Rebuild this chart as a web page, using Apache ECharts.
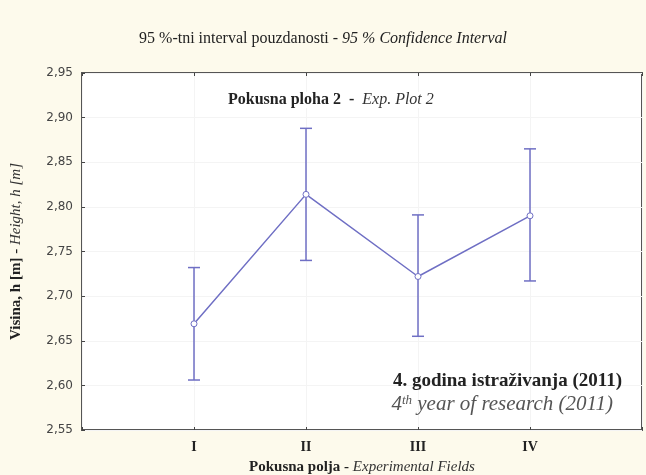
<!DOCTYPE html>
<html>
<head>
<meta charset="utf-8">
<script src="https://cdn.jsdelivr.net/npm/echarts@6/dist/echarts.min.js"></script>
<style>
  html, body { margin: 0; padding: 0; background: #fdfaec; }
  #chart { width: 646px; height: 475px; }
</style>
</head>
<body>
<div id="chart"></div>
<script>
// field labels and positions on the x scale
const fields = ['I', 'II', 'III', 'IV'];
const fieldPos = [1, 2, 3, 4];
// mean height and 95 % confidence limits (m)
const means = [2.669, 2.814, 2.722, 2.790];
const upper = [2.732, 2.888, 2.791, 2.865];
const lower = [2.606, 2.740, 2.655, 2.717];

const lineColor = '#6f6fc4';
const serif = 'Liberation Serif';

const chart = echarts.init(document.getElementById('chart'));

const option = {
  backgroundColor: '#fdfaec',
  animation: false,
  title: {
    left: 'center',
    top: 26,
    text: '{a|95 %-tni interval pouzdanosti - }{b|95 % Confidence Interval}',
    textStyle: {
      fontWeight: 'normal',
      rich: {
        a: { fontFamily: serif, fontSize: 16, fontWeight: 'normal', color: '#222' },
        b: { fontFamily: serif, fontSize: 16, fontWeight: 'normal', color: '#222', fontStyle: 'italic' }
      }
    }
  },
  grid: {
    left: 82, right: 4, top: 73, bottom: 45,
    outerBoundsMode: 'none',
    show: true,
    backgroundColor: '#fff',
    borderColor: '#555',
    borderWidth: 2
  },
  xAxis: [
    {
      type: 'value',
      min: 0, max: 5, interval: 1,
      axisLine: { show: false },
      axisTick: { show: true, inside: true, length: 3, lineStyle: { color: '#444' } },
      splitLine: { show: true, lineStyle: { color: '#f4f4f4' } },
      axisLabel: {
        margin: 10,
        fontFamily: serif, fontSize: 14, fontWeight: 'bold', color: '#222',
        formatter: v => {
          const i = fieldPos.indexOf(v);
          return i >= 0 ? fields[i] : '';
        }
      },
      name: '{a|Pokusna polja - }{b|Experimental Fields}',
      nameLocation: 'middle',
      nameGap: 30,
      nameTextStyle: {
        rich: {
          a: { fontFamily: serif, fontSize: 15, fontWeight: 'bold', color: '#222' },
          b: { fontFamily: serif, fontSize: 15, fontStyle: 'italic', color: '#333' }
        }
      }
    },
    {
      type: 'value',
      position: 'top',
      min: 0, max: 5, interval: 1,
      axisLine: { show: false },
      axisTick: { show: true, inside: true, length: 3, lineStyle: { color: '#444' } },
      axisLabel: { show: false },
      splitLine: { show: false }
    }
  ],
  yAxis: {
    type: 'value',
    min: 2.55, max: 2.95, interval: 0.05,
    axisLine: { show: false },
    axisTick: { show: true, inside: true, length: 3, lineStyle: { color: '#444' } },
    splitLine: { show: true, lineStyle: { color: '#f4f4f4' } },
    axisLabel: {
      margin: 9,
      fontFamily: 'DejaVu Sans', fontSize: 12, color: '#444',
      formatter: v => v.toFixed(2).replace('.', ',')
    },
    name: '{a|Visina, h [m] - }{b|Height, h [m]}',
    nameLocation: 'middle',
    nameGap: 58,
    nameRotate: 90,
    nameTextStyle: {
      rich: {
        a: { fontFamily: serif, fontSize: 15, fontWeight: 'bold', color: '#222' },
        b: { fontFamily: serif, fontSize: 15, fontStyle: 'italic', color: '#333' }
      }
    }
  },
  graphic: [
    {
      type: 'text',
      left: 228, top: 92, z: 100,
      style: {
        text: '{a|Pokusna ploha 2  -  }{b|Exp. Plot 2}',
        rich: {
          a: { fontFamily: serif, fontSize: 16, fontWeight: 'bold', fill: '#222', backgroundColor: '#fff' },
          b: { fontFamily: serif, fontSize: 16, fontStyle: 'italic', fill: '#333', backgroundColor: '#fff' }
        }
      }
    },
    {
      type: 'text',
      right: 24, top: 372, z: 100,
      style: {
        text: '4. godina istra\u017Eivanja (2011)',
        fontFamily: serif, fontSize: 19, fontWeight: 'bold', fill: '#222'
      }
    },
    {
      type: 'text',
      right: 33, top: 394, z: 100,
      style: {
        text: '{s|4}{t|th}{s| year of research (2011)}',
        rich: {
          s: { fontFamily: serif, fontSize: 21, fontStyle: 'italic', fill: '#555', verticalAlign: 'bottom' },
          t: { fontFamily: serif, fontSize: 13, fontStyle: 'italic', fill: '#555', verticalAlign: 'top' }
        }
      }
    }
  ],
  series: [
    {
      type: 'custom',
      xAxisIndex: 0,
      data: fieldPos.map((x, i) => [x, upper[i], lower[i]]),
      renderItem: (params, api) => {
        const x = api.value(0);
        const top = api.coord([x, api.value(1)]);
        const bot = api.coord([x, api.value(2)]);
        const w = 6;
        const st = { stroke: lineColor, lineWidth: 1.5 };
        return {
          type: 'group',
          children: [
            { type: 'line', shape: { x1: top[0], y1: top[1], x2: bot[0], y2: bot[1] }, style: st },
            { type: 'line', shape: { x1: top[0] - w, y1: top[1], x2: top[0] + w, y2: top[1] }, style: st },
            { type: 'line', shape: { x1: bot[0] - w, y1: bot[1], x2: bot[0] + w, y2: bot[1] }, style: st }
          ]
        };
      },
      z: 2
    },
    {
      type: 'line',
      xAxisIndex: 0,
      data: fieldPos.map((x, i) => [x, means[i]]),
      symbol: 'circle',
      symbolSize: 6,
      lineStyle: { color: lineColor, width: 1.5 },
      itemStyle: { color: '#fff', borderColor: lineColor, borderWidth: 1 },
      z: 3
    }
  ]
};

chart.setOption(option);
</script>
</body>
</html>
